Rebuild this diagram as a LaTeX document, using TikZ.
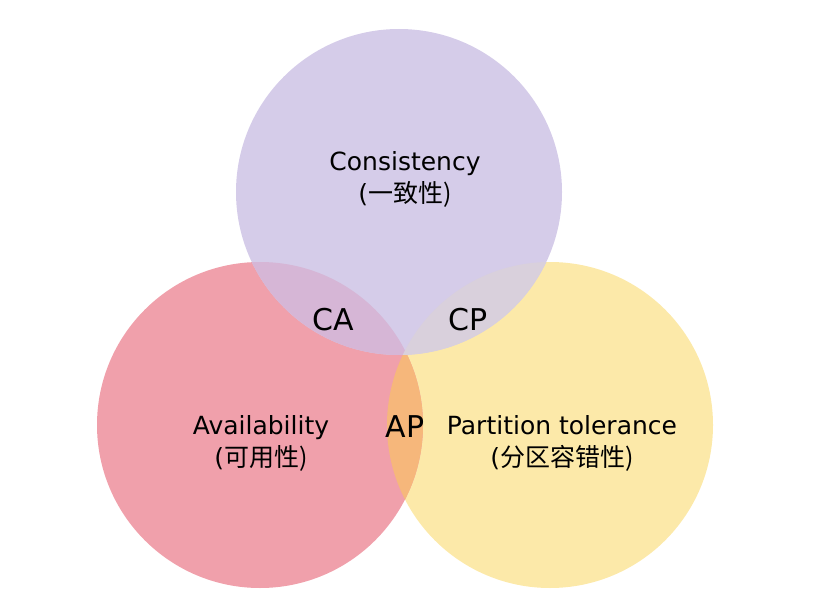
\documentclass[tikz,border=0pt]{standalone}
\usepackage{fontspec}
\setmainfont{DejaVu Sans}
\newfontfamily\cjk{Noto Sans CJK SC}
\usetikzlibrary{positioning}
\definecolor{lilla}{HTML}{D5CCE9}
\definecolor{rosa}{HTML}{F0A0AB}
\definecolor{giallo}{HTML}{FCE9A9}
\definecolor{arancio}{HTML}{F6B77B}
\definecolor{malva}{HTML}{D6B6D6}
\definecolor{grigiolilla}{HTML}{D9D0DC}

\begin{document}
\begin{tikzpicture}[x=1pt, y=-1pt,
  cerchio/.style={circle, minimum size=326pt, inner sep=0pt},
  voce/.style={align=center, font=\fontsize{25}{32}\selectfont},
  sigla/.style={font=\fontsize{30}{30}\selectfont}]
\useasboundingbox (0,0) rectangle (816,604);
\node[cerchio, fill=giallo] (part) at (550,425) {};
\node[cerchio, fill=rosa]   (disp) at (260,425) {};
% lente AP tra disponibilita e partizione
\begin{scope}
  \clip (part.center) circle (163);
  \fill[arancio] (disp.center) circle (163);
\end{scope}
\node[cerchio, fill=lilla] (cons) at (399,192) {};
\begin{scope}
  \clip (cons.center) circle (163);
  \fill[malva] (disp.center) circle (163);
  \fill[grigiolilla] (part.center) circle (163);
\end{scope}
\node[voce] (tcons) at (405,179) {Consistency\\(\cjk{一致性})};
\node[voce] (tdisp) at (261,443) {Availability\\(\cjk{可用性})};
\node[voce] (tpart) at (562,443) {Partition tolerance\\(\cjk{分区容错性})};
\node[sigla] (ca) at (333,320) {CA};
\node[sigla] (cp) at (468,320) {CP};
\node[sigla] (ap) at (405,427) {AP};
\end{tikzpicture}
\end{document}
